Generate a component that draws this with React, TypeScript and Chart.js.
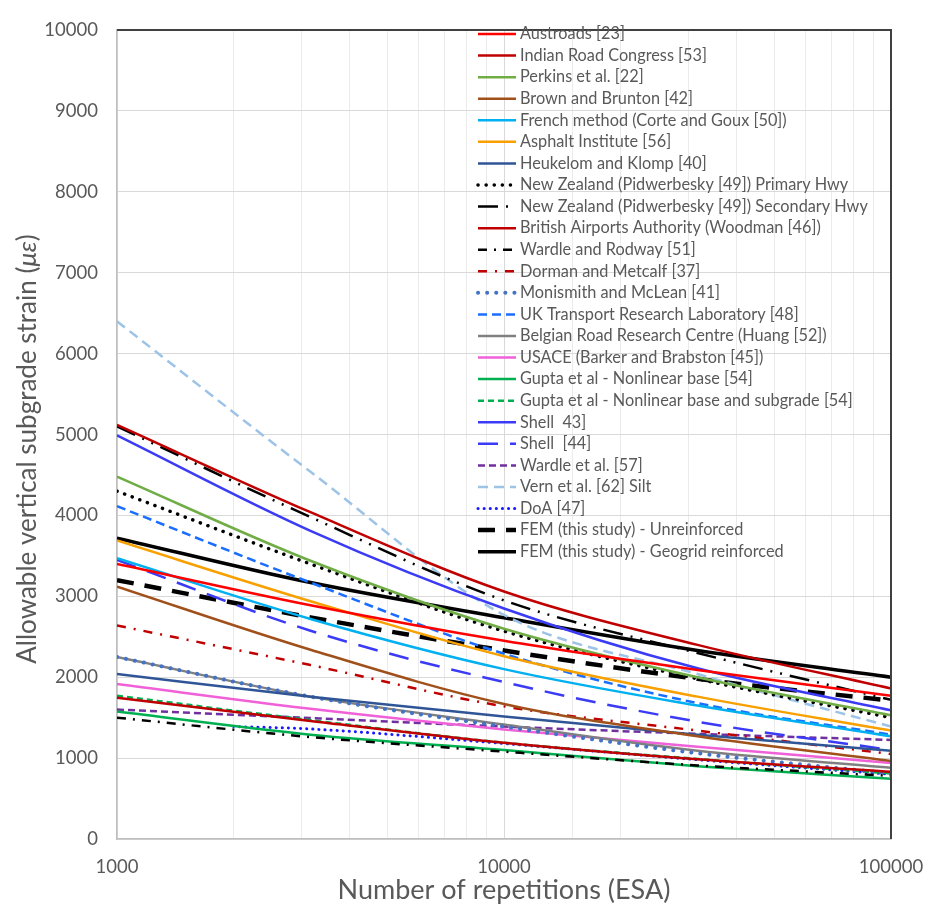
import React, { useEffect, useRef } from "react";
import { Chart, registerables } from "chart.js";

Chart.register(...registerables);

// ---------------- data ----------------
const N_VALUES = [1000, 3162, 10000, 31623, 100000];
const DOA_N = [2000, 3162, 10000, 31623, 100000];
const X_TICKS = [1000, 10000, 100000];
const Y_MIN = 0;
const Y_MAX = 10000;
const Y_STEP = 1000;

const austroads = [3400, 2890, 2450, 2090, 1770];
const indianRoadCongress = [5120, 4040, 3060, 2400, 1860];
const perkins = [4480, 3440, 2600, 2000, 1530];
const brownBrunton = [3120, 2340, 1670, 1270, 965];
const frenchMethod = [3470, 2720, 2100, 1650, 1270];
const asphaltInstitute = [3690, 2940, 2260, 1760, 1340];
const heukelomKlomp = [2040, 1760, 1515, 1290, 1090];
const nzPrimary = [4300, 3400, 2570, 1980, 1500];
const nzSecondary = [5100, 3980, 2950, 2300, 1720];
const britishAirports = [1745, 1460, 1190, 985, 830];
const wardleRodway = [1500, 1260, 1080, 910, 780];
const dormanMetcalf = [2640, 2150, 1640, 1340, 1050];
const monismithMcLean = [2250, 1760, 1390, 1060, 810];
const ukTrl = [4115, 3170, 2290, 1680, 1290];
const belgian = [2250, 1760, 1415, 1090, 880];
const usace = [1915, 1610, 1355, 1140, 940];
const guptaBase = [1575, 1290, 1100, 900, 745];
const guptaBaseSubgrade = [1770, 1470, 1190, 990, 810];
const shell43 = [4990, 3810, 2850, 2110, 1590];
const shell44 = [3450, 2575, 1940, 1450, 1100];
const wardleEtAl = [1600, 1495, 1390, 1300, 1225];
const vernSilt = [6400, 4540, 2770, 2040, 1390];
const doa = [1390, 1360, 1180, 980, 800];
const femUnreinforced = [3200, 2740, 2330, 1980, 1710];
const femGeogrid = [3720, 3170, 2735, 2330, 2000];

// ---------------- styles ----------------
const TEXT = "#595959";
const FONT = "Lato";

type S = { label: string; n: number[]; v: number[]; color: string; width: number; dash: number[]; round?: boolean };

const SERIES: S[] = [
  { label: "Austroads [23]", n: N_VALUES, v: austroads, color: "#FF0000", width: 2.5, dash: [] },
  { label: "Indian Road Congress [53]", n: N_VALUES, v: indianRoadCongress, color: "#C00000", width: 2.5, dash: [] },
  { label: "Perkins et al. [22]", n: N_VALUES, v: perkins, color: "#70AD47", width: 2.5, dash: [] },
  { label: "Brown and Brunton [42]", n: N_VALUES, v: brownBrunton, color: "#A0501A", width: 2.5, dash: [] },
  { label: "French method (Corte and Goux [50])", n: N_VALUES, v: frenchMethod, color: "#00B0F0", width: 2.5, dash: [] },
  { label: "Asphalt Institute [56]", n: N_VALUES, v: asphaltInstitute, color: "#F7A000", width: 2.5, dash: [] },
  { label: "Heukelom and Klomp [40]", n: N_VALUES, v: heukelomKlomp, color: "#2F5597", width: 2.5, dash: [] },
  { label: "New Zealand (Pidwerbesky [49]) Primary Hwy", n: N_VALUES, v: nzPrimary, color: "#000000", width: 3.5, dash: [0.1, 8], round: true },
  { label: "New Zealand (Pidwerbesky [49]) Secondary Hwy", n: N_VALUES, v: nzSecondary, color: "#000000", width: 2.5, dash: [20, 8, 2, 8, 2, 8] },
  { label: "British Airports Authority (Woodman [46])", n: N_VALUES, v: britishAirports, color: "#C00000", width: 2.5, dash: [] },
  { label: "Wardle and Rodway [51]", n: N_VALUES, v: wardleRodway, color: "#000000", width: 2.5, dash: [9, 7, 2, 7] },
  { label: "Dorman and Metcalf [37]", n: N_VALUES, v: dormanMetcalf, color: "#C00000", width: 2.5, dash: [9, 8, 2, 8] },
  { label: "Monismith and McLean [41]", n: N_VALUES, v: monismithMcLean, color: "#4472C4", width: 4, dash: [0.1, 9], round: true },
  { label: "UK Transport Research Laboratory [48]", n: N_VALUES, v: ukTrl, color: "#1A6EFF", width: 2.5, dash: [9, 5] },
  { label: "Belgian Road Research Centre (Huang [52])", n: N_VALUES, v: belgian, color: "#808080", width: 2.5, dash: [] },
  { label: "USACE (Barker and Brabston [45])", n: N_VALUES, v: usace, color: "#F060D8", width: 2.5, dash: [] },
  { label: "Gupta et al - Nonlinear base [54]", n: N_VALUES, v: guptaBase, color: "#00B050", width: 2.5, dash: [] },
  { label: "Gupta et al - Nonlinear base and subgrade [54]", n: N_VALUES, v: guptaBaseSubgrade, color: "#00B050", width: 2.5, dash: [6, 4] },
  { label: "Shell  43]", n: N_VALUES, v: shell43, color: "#3B3BF5", width: 2.5, dash: [] },
  { label: "Shell  [44]", n: N_VALUES, v: shell44, color: "#3B3BF5", width: 2.5, dash: [20, 12] },
  { label: "Wardle et al. [57]", n: N_VALUES, v: wardleEtAl, color: "#7030A0", width: 2.5, dash: [7, 4] },
  { label: "Vern et al. [62] Silt", n: N_VALUES, v: vernSilt, color: "#9DC3E6", width: 2.5, dash: [10, 6] },
  { label: "DoA [47]", n: DOA_N, v: doa, color: "#1A1AFF", width: 3, dash: [0.1, 6], round: true },
  { label: "FEM (this study) - Unreinforced", n: N_VALUES, v: femUnreinforced, color: "#000000", width: 4.5, dash: [17, 11] },
  { label: "FEM (this study) - Geogrid reinforced", n: N_VALUES, v: femGeogrid, color: "#000000", width: 3.5, dash: [] },
];

const isPow10 = (v: number) => {
  const l = Math.log10(v);
  return Math.abs(l - Math.round(l)) < 1e-9;
};

const framePlugin = {
  id: "frameAndLegend",
  afterDraw(chart: any) {
    const { ctx, chartArea } = chart;
    const { left, right, top, bottom } = chartArea;
    ctx.save();
    // dark top & right border
    ctx.strokeStyle = "#404040";
    ctx.lineWidth = 2;
    ctx.setLineDash([]);
    ctx.beginPath();
    ctx.moveTo(left, top);
    ctx.lineTo(right, top);
    ctx.lineTo(right, bottom);
    ctx.stroke();

    // legend inside plot
    const lx0 = 478, lx1 = 516, tx = 520, y0 = 34, dy = 21.57;
    ctx.font = `16.3px ${FONT}`;
    ctx.textBaseline = "middle";
    ctx.textAlign = "left";
    chart.data.datasets.forEach((ds: any, i: number) => {
      const y = y0 + i * dy;
      ctx.beginPath();
      ctx.strokeStyle = ds.borderColor;
      ctx.lineWidth = ds.borderWidth;
      ctx.setLineDash(ds.borderDash || []);
      ctx.lineCap = ds.borderCapStyle || "butt";
      ctx.moveTo(lx0, y);
      ctx.lineTo(lx1, y);
      ctx.stroke();
      ctx.fillStyle = TEXT;
      ctx.fillText(ds.label, tx, y);
    });

    // y-axis title with italic symbol
    const partA = "Allowable vertical subgrade strain (";
    const partB = "\u03BC\u03B5";
    const partC = ")";
    const size = 26;
    ctx.font = `${size}px ${FONT}`;
    const wA = ctx.measureText(partA).width;
    const wC = ctx.measureText(partC).width;
    ctx.font = `italic ${size}px ${FONT}`;
    const wB = ctx.measureText(partB).width;
    const total = wA + wB + wC;
    ctx.setLineDash([]);
    ctx.translate(28, 449);
    ctx.rotate(-Math.PI / 2);
    ctx.fillStyle = TEXT;
    let x = -total / 2;
    ctx.font = `${size}px ${FONT}`;
    ctx.fillText(partA, x, 0);
    x += wA;
    ctx.font = `italic ${size}px ${FONT}`;
    ctx.fillText(partB, x, 0);
    x += wB;
    ctx.font = `${size}px ${FONT}`;
    ctx.fillText(partC, x, 0);
    ctx.restore();
  },
};

export default function App() {
  const ref = useRef<HTMLCanvasElement>(null);
  useEffect(() => {
    const datasets = SERIES.map((s) => ({
      label: s.label,
      data: s.n.map((n, i) => ({ x: n, y: s.v[i] })),
      borderColor: s.color,
      backgroundColor: s.color,
      borderWidth: s.width,
      borderDash: s.dash,
      borderCapStyle: s.round ? "round" : "butt",
      pointRadius: 0,
      pointHoverRadius: 0,
      fill: false,
      cubicInterpolationMode: "monotone",
    }));
    const chart = new Chart(ref.current!, {
      type: "line",
      data: { datasets } as any,
      options: {
        animation: false,
        responsive: false,
        layout: { padding: { left: 0, right: 45, top: 20, bottom: 0 } },
        plugins: { legend: { display: false }, tooltip: { enabled: false } },
        scales: {
          x: {
            type: "logarithmic",
            min: X_TICKS[0],
            max: X_TICKS[X_TICKS.length - 1],
            afterFit: (s: any) => {
              s.height = 67;
              s.paddingLeft = 0;
              s.paddingRight = 0;
            },
            grid: {
              drawTicks: false,
              color: (c: any) => (c.tick && isPow10(c.tick.value) ? "#D9D9D9" : "#EBEBEB"),
              lineWidth: 1,
            },
            border: { color: "#BFBFBF", width: 1.5 },
            ticks: {
              autoSkip: false,
              maxRotation: 0,
              padding: 17,
              color: TEXT,
              font: { family: FONT, size: 18.5 },
              callback: (v: any) => (X_TICKS.includes(Number(v)) ? String(v) : ""),
            },
            title: {
              display: true,
              text: "Number of repetitions (ESA)",
              color: TEXT,
              font: { family: FONT, size: 27 },
              padding: { top: 0, bottom: 0 },
            },
          },
          y: {
            type: "linear",
            min: Y_MIN,
            max: Y_MAX,
            afterFit: (s: any) => { s.width = 117; },
            grid: { drawTicks: false, color: "#D9D9D9", lineWidth: 1 },
            border: { color: "#BFBFBF", width: 1.5 },
            ticks: {
              stepSize: Y_STEP,
              padding: 19,
              color: TEXT,
              font: { family: FONT, size: 18.5 },
              callback: (v: any) => String(v),
            },
          },
        },
      } as any,
      plugins: [framePlugin],
    });
    return () => chart.destroy();
  }, []);
  return (
    <div style={{ position: "absolute", left: 0, top: 0, width: 936, height: 906, background: "#fff" }}>
      <canvas ref={ref} width={936} height={906} style={{ display: "block", width: 936, height: 906 }} />
    </div>
  );
}
